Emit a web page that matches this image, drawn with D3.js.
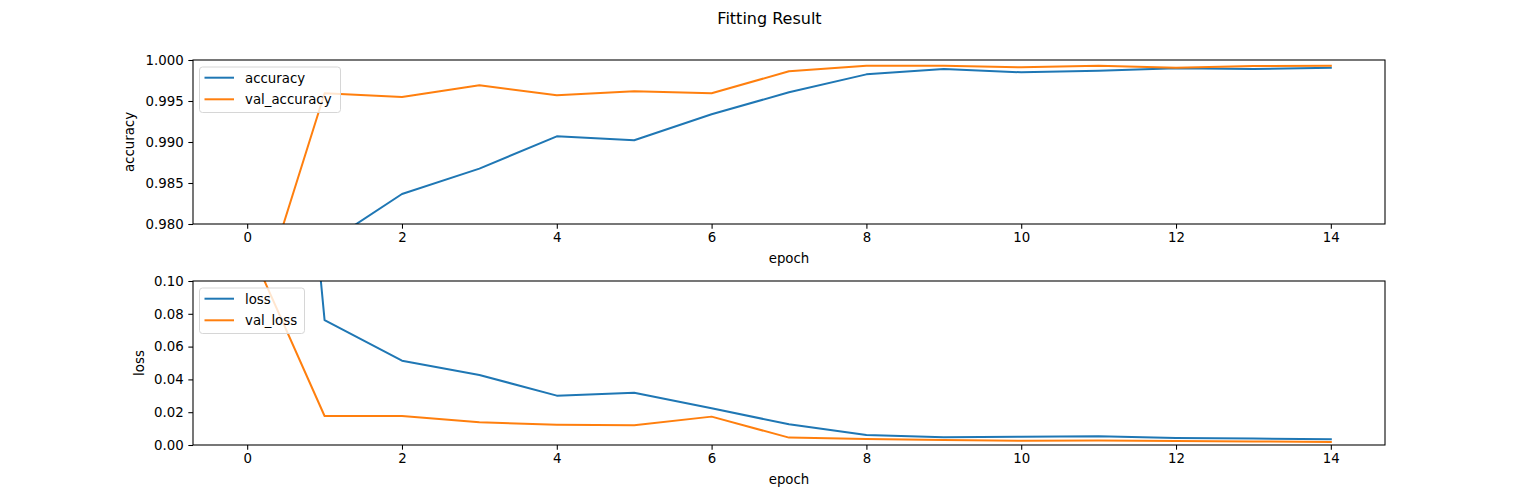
<!DOCTYPE html>
<html>
<head>
<meta charset="utf-8">
<script src="https://cdn.jsdelivr.net/npm/d3@7"></script>
<style>
  html, body { margin: 0; padding: 0; background: #fff; }
  svg { display: block; font-family: "DejaVu Sans", sans-serif; }
  .tick text { font-size: 13.33px; fill: #000; font-family: "DejaVu Sans", sans-serif; }
  .tick line, .domain { stroke: #000; }
</style>
</head>
<body>
<svg id="chart" width="1539" height="500"></svg>
<script>
// training history
const epochs = [0, 1, 2, 3, 4, 5, 6, 7, 8, 9, 10, 11, 12, 13, 14];
const accuracy = [0.850, 0.97745, 0.98366, 0.98675, 0.99069, 0.99021, 0.99338, 0.99606, 0.99825, 0.99890, 0.99850, 0.99870, 0.99898, 0.99890, 0.99906];
const valAccuracy = [0.9659, 0.99594, 0.99549, 0.99691, 0.99569, 0.99618, 0.99594, 0.99862, 0.99931, 0.99931, 0.99911, 0.99931, 0.99906, 0.99927, 0.99931];
const loss = [0.572, 0.0762, 0.0514, 0.0427, 0.0301, 0.0319, 0.0224, 0.0126, 0.0061, 0.0047, 0.0051, 0.0053, 0.0043, 0.0039, 0.0035];
const valLoss = [0.1237, 0.0177, 0.0177, 0.0138, 0.0124, 0.0120, 0.0173, 0.0045, 0.0037, 0.0030, 0.0026, 0.0028, 0.0024, 0.0022, 0.0018];

const xTicks = [0, 2, 4, 6, 8, 10, 12, 14];
const accTicks = [0.980, 0.985, 0.990, 0.995, 1.000];
const lossTicks = [0.00, 0.02, 0.04, 0.06, 0.08, 0.10];

const BLUE = '#1f77b4', ORANGE = '#ff7f0e';

const svg = d3.select('#chart');

svg.append('text')
  .attr('x', 769.5).attr('y', 24)
  .attr('text-anchor', 'middle')
  .attr('font-size', '16px')
  .text('Fitting Result');

function drawPanel(opts) {
  const left = 193, right = 1385;
  const { top, bottom, yDomain, yTicks, yFmt, series, ylabel, ylabelX, legendW, id } = opts;

  const x = d3.scaleLinear().domain([-0.7, 14.7]).range([left, right]);
  const y = d3.scaleLinear().domain(yDomain).range([bottom, top]);

  const g = svg.append('g');

  g.append('clipPath').attr('id', id)
    .append('rect')
    .attr('x', left).attr('y', top)
    .attr('width', right - left).attr('height', bottom - top);

  const line = d3.line()
    .x((d, i) => x(epochs[i]))
    .y(d => y(d));

  series.forEach(s => {
    g.append('path')
      .datum(s.values)
      .attr('clip-path', `url(#${id})`)
      .attr('fill', 'none')
      .attr('stroke', s.color)
      .attr('stroke-width', 2)
      .attr('stroke-linejoin', 'round')
      .attr('stroke-linecap', 'square')
      .attr('d', line);
  });

  // frame
  g.append('rect')
    .attr('x', left).attr('y', top)
    .attr('width', right - left).attr('height', bottom - top)
    .attr('fill', 'none').attr('stroke', '#000').attr('stroke-width', 1.07);

  const xAxis = g.append('g')
    .attr('transform', `translate(0,${bottom})`)
    .call(d3.axisBottom(x).tickValues(xTicks).tickSize(4.67).tickPadding(4.2).tickFormat(d3.format('d')));
  xAxis.select('.domain').remove();

  const yAxis = g.append('g')
    .attr('transform', `translate(${left},0)`)
    .call(d3.axisLeft(y).tickValues(yTicks).tickSize(4.67).tickPadding(4.67).tickFormat(d3.format(yFmt)));
  yAxis.select('.domain').remove();
  g.selectAll('.tick line').attr('stroke-width', 1.07);

  g.append('text')
    .attr('x', (left + right) / 2).attr('y', bottom + 38.5)
    .attr('text-anchor', 'middle')
    .attr('font-size', '13.33px')
    .text('epoch');

  g.append('text')
    .attr('transform', `translate(${ylabelX},${(top + bottom) / 2}) rotate(-90)`)
    .attr('text-anchor', 'middle')
    .attr('font-size', '13.33px')
    .text(ylabel);

  // legend
  const lg = g.append('g').attr('transform', `translate(199.5,${top + 7})`);
  lg.append('rect')
    .attr('width', legendW).attr('height', 45.5)
    .attr('rx', 3).attr('ry', 3)
    .attr('fill', 'rgba(255,255,255,0.8)')
    .attr('stroke', '#d6d6d6').attr('stroke-width', 1);
  series.forEach((s, i) => {
    const cy = 10.7 + i * 21.6;
    lg.append('line')
      .attr('x1', 5).attr('x2', 34.5).attr('y1', cy).attr('y2', cy)
      .attr('stroke', s.color).attr('stroke-width', 2);
    lg.append('text')
      .attr('x', 45.5).attr('y', cy + 5)
      .attr('font-size', '13.33px')
      .text(s.name);
  });
}

drawPanel({
  id: 'clip-acc', top: 60, bottom: 224,
  yDomain: [0.980, 1.000], yTicks: accTicks, yFmt: '.3f',
  ylabel: 'accuracy', ylabelX: 134, legendW: 141,
  series: [
    { name: 'accuracy', values: accuracy, color: BLUE },
    { name: 'val_accuracy', values: valAccuracy, color: ORANGE }
  ]
});

drawPanel({
  id: 'clip-loss', top: 281, bottom: 445,
  yDomain: [0, 0.10], yTicks: lossTicks, yFmt: '.2f',
  ylabel: 'loss', ylabelX: 143.5, legendW: 105,
  series: [
    { name: 'loss', values: loss, color: BLUE },
    { name: 'val_loss', values: valLoss, color: ORANGE }
  ]
});
</script>
</body>
</html>
